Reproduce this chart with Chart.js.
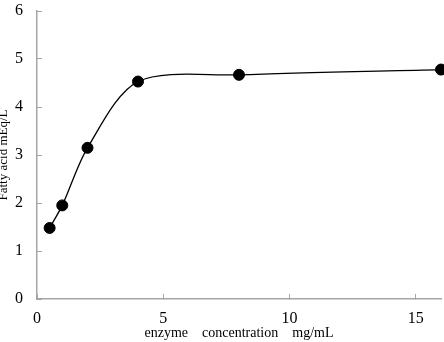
<!DOCTYPE html>
<html>
<head>
<meta charset="utf-8">
<script src="https://cdn.jsdelivr.net/npm/chart.js@4/dist/chart.umd.min.js"></script>
<style>
  html, body { margin: 0; padding: 0; background: #fff; }
  #wrap { width: 444px; height: 342px; }
</style>
</head>
<body>
<div id="wrap"><canvas id="myChart" width="444" height="342"></canvas></div>
<script>
const concentration = [0.5, 1, 2, 4, 8, 16];
const fattyAcid = [1.48, 1.95, 3.15, 4.53, 4.67, 4.78];
const xTicks = [0, 5, 10, 15];
const yTicks = [0, 1, 2, 3, 4, 5, 6];

const serif = "'Liberation Serif', 'DejaVu Serif', serif";

new Chart("myChart", {
  type: "line",
  data: {
    datasets: [
      {
        label: "Fatty acid",
        data: concentration.map((x, i) => ({ x, y: fattyAcid[i] })),
        borderColor: "#000",
        borderWidth: 1.3,
        backgroundColor: "#000",
        pointRadius: 5.5,
        pointHoverRadius: 5.5,
        pointBorderWidth: 1,
        tension: 0.3,
        clip: false,
      },
    ],
  },
  options: {
    responsive: false,
    animation: false,
    events: [],
    layout: { autoPadding: false, padding: { left: 0, right: 3, top: 11, bottom: 0 } },
    plugins: { legend: { display: false }, tooltip: { enabled: false } },
    scales: {
      x: {
        type: "linear",
        min: 0,
        max: 16,
        afterBuildTicks: scale => {
          scale.ticks = xTicks.map(value => ({ value }));
        },
        afterFit: scale => {
          scale.height = 43;
          scale.paddingLeft = 0;
          scale.paddingRight = 0;
        },
        border: { color: "#a6a6a6", width: 1.5 },
        grid: { drawOnChartArea: false, tickLength: -5, color: "#a6a6a6" },
        ticks: { color: "#000", font: { family: serif, size: 16 }, padding: 15 },
        title: {
          display: true,
          text: "enzyme\u3000concentration\u3000mg/mL",
          color: "#000",
          font: { family: serif, size: 14 },
          padding: { top: 0, bottom: 0 },
        },
      },
      y: {
        min: 0,
        max: 6,
        afterBuildTicks: scale => {
          scale.ticks = yTicks.map(value => ({ value }));
        },
        afterFit: scale => {
          scale.width = 37;
          scale.paddingTop = 0;
          scale.paddingBottom = 0;
        },
        border: { color: "#a6a6a6", width: 1.5 },
        grid: { drawOnChartArea: false, tickLength: -5, color: "#a6a6a6" },
        ticks: { color: "#000", font: { family: serif, size: 16 }, padding: 19 },
        title: {
          display: true,
          text: "Fatty acid mEq/L",
          color: "#000",
          font: { family: serif, size: 13 },
          padding: { top: -4, bottom: 0 },
        },
      },
    },
  },
});
</script>
</body>
</html>
